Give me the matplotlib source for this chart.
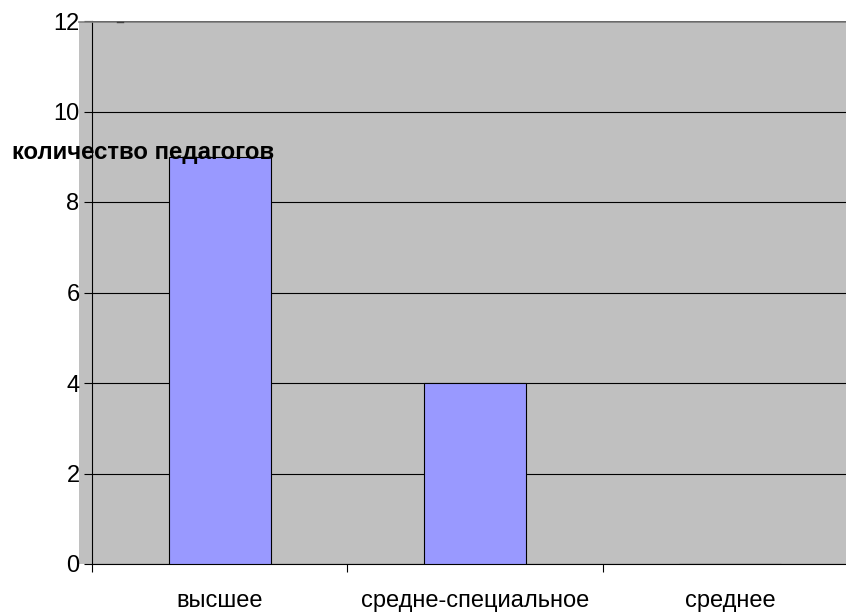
import matplotlib
matplotlib.use("Agg")
import matplotlib.pyplot as plt
from matplotlib.lines import Line2D

categories = ["высшее", "средне-специальное", "среднее"]
values = [9, 4, 0]
yticks = [0, 2, 4, 6, 8, 10, 12]
ylabel = "количество педагогов"

plt.rcParams['font.family'] = ['Liberation Sans', 'DejaVu Sans']

W, H = 846, 614
fig = plt.figure(figsize=(W / 100, H / 100), dpi=100)

# gray plot background (extends slightly left of the axis)
bg = fig.add_axes([79 / W, (H - 564) / H, (W - 79) / W, (564 - 22) / H], zorder=0)
bg.set_facecolor("#C0C0C0")
bg.set_xticks([])
bg.set_yticks([])
for s in bg.spines.values():
    s.set_visible(False)

ax = fig.add_axes([92 / W, (H - 564) / H, (858 - 92) / W, (564 - 21) / H], zorder=1)
ax.set_facecolor("none")
ax.set_xlim(0, 3)
ax.set_ylim(0, 12)

x = [i + 0.5 for i in range(len(categories))]
ax.bar(x, values, width=0.4, color="#9999FF", edgecolor="#000000", linewidth=0.8, zorder=3)

ax.set_yticks(yticks)
ax.set_yticklabels([str(t) for t in yticks], fontsize=17)
ax.yaxis.grid(True, color="#000000", linewidth=0.8, zorder=1)
ax.set_axisbelow(True)
ax.tick_params(axis="y", length=6, width=0.8, pad=3)

ax.set_xticks([0, 1, 2, 3])
ax.set_xticklabels([])
ax.set_xticks(x, minor=True)
ax.set_xticklabels(categories, minor=True, fontsize=17)
ax.tick_params(axis="x", which="major", length=6, width=0.8, direction="out")
ax.tick_params(axis="x", which="minor", length=0, pad=19)

for s in ["top", "right"]:
    ax.spines[s].set_visible(False)
ax.spines["left"].set_linewidth(0.8)
ax.spines["bottom"].set_linewidth(0.8)

# top border line of the gray area
fig.add_artist(Line2D([79 / W, 1], [(H - 22) / H] * 2, transform=fig.transFigure,
                      color="#808080", linewidth=1.2, zorder=5))
# small dash mark near top
fig.add_artist(Line2D([117 / W, 123 / W], [(H - 22) / H] * 2, transform=fig.transFigure,
                      color="#404040", linewidth=1.0, zorder=6))

fig.text(12 / W, (H - 153) / H, ylabel, fontsize=17.3, fontweight="bold",
         ha="left", va="center", zorder=10)

fig.savefig("out.png", dpi=100)
